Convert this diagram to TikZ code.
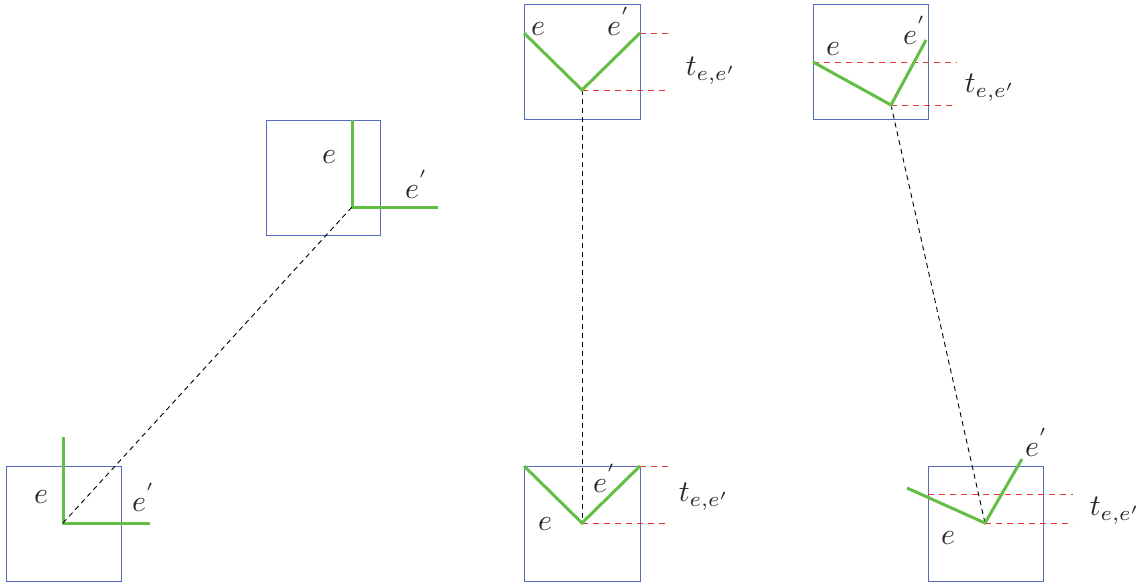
\documentclass[tikz,border=0pt]{standalone}
\definecolor{boxblue}{RGB}{88,108,190}
\definecolor{edgegreen}{RGB}{100,190,70}
\definecolor{guidered}{RGB}{230,50,50}
\definecolor{labelgray}{RGB}{40,40,40}
\tikzset{
  cellbox/.style={draw=boxblue, line width=1pt},
  edgeline/.style={draw=edgegreen, line width=3pt},
  guide/.style={draw=guidered, line width=0.9pt, dash pattern=on 6pt off 5pt},
  link/.style={draw=black, line width=0.9pt, dash pattern=on 5pt off 4pt},
  lbl/.style={inner sep=0pt, scale=3, transform shape, text=labelgray}
}
\begin{document}
\begin{tikzpicture}[x=1pt,y=-1pt]
\useasboundingbox (0,0) rectangle (1139,586);
% ---------- panel 1 ----------
\draw[cellbox] (6,466) rectangle (121,581);
\draw[cellbox] (266,120) rectangle (380,235);
\coordinate (a1) at (63,437);
\coordinate (v1) at (63,523);
\coordinate (b1) at (150,523);
\coordinate (a2) at (352,120);
\coordinate (v2) at (352,207);
\coordinate (b2) at (438,207);
\draw[edgeline] (a1) -- (v1) -- (b1);
\draw[edgeline] (a2) -- (v2) -- (b2);
\draw[link] (v1) -- (v2);
\node[lbl] (e1) at (41,497) {$e$};
\node[lbl] (f1) at (144,497) {$e^{'}$};
\node[lbl] (e2) at (329,157) {$e$};
\node[lbl] (f2) at (417,184) {$e^{'}$};
% ---------- panel 2 ----------
\draw[cellbox] (524,5) rectangle (640,119);
\draw[cellbox] (524,466) rectangle (640,581);
\coordinate (a3) at (524,33);
\coordinate (v3) at (582,90);
\coordinate (b3) at (640,33);
\coordinate (r3a) at (670,33);
\coordinate (r3b) at (670,90);
\coordinate (a4) at (524,466);
\coordinate (v4) at (582,523);
\coordinate (b4) at (640,466);
\coordinate (r4a) at (670,466);
\coordinate (r4b) at (670,523);
\draw[guide] (b3) -- (r3a);
\draw[guide] (v3) -- (r3b);
\draw[guide] (b4) -- (r4a);
\draw[guide] (v4) -- (r4b);
\draw[link] (v3) -- (v4);
\draw[edgeline] (a3) -- (v3) -- (b3);
\draw[edgeline] (a4) -- (v4) -- (b4);
\node[lbl] (e3) at (538,29) {$e$};
\node[lbl] (f3) at (619,21) {$e^{'}$};
\node[lbl] (t3) at (711,71) {$t_{e,e'}$};
\node[lbl] (e4) at (545,524) {$e$};
\node[lbl] (f4) at (605,478) {$e^{'}$};
\node[lbl] (t4) at (704,497) {$t_{e,e'}$};
% ---------- panel 3 ----------
\draw[cellbox] (813,5) rectangle (928,119);
\draw[cellbox] (928,466) rectangle (1043,581);
\coordinate (a5) at (813,62);
\coordinate (v5) at (891,105);
\coordinate (b5) at (926,40);
\coordinate (r5a) at (957,62);
\coordinate (r5b) at (957,105);
\coordinate (a6) at (907,488);
\coordinate (v6) at (985,523);
\coordinate (b6) at (1022,459);
\coordinate (l6) at (928,494);
\coordinate (r6a) at (1073,494);
\coordinate (r6b) at (1073,523);
\draw[guide] (a5) -- (r5a);
\draw[guide] (v5) -- (r5b);
\draw[guide] (l6) -- (r6a);
\draw[guide] (v6) -- (r6b);
\draw[link] (v5) -- (v6);
\draw[edgeline] (a5) -- (v5) -- (b5);
\draw[edgeline] (a6) -- (v6) -- (b6);
\node[lbl] (e5) at (833,49) {$e$};
\node[lbl] (f5) at (915,30) {$e^{'}$};
\node[lbl] (t5) at (990,88) {$t_{e,e'}$};
\node[lbl] (e6) at (948,538) {$e$};
\node[lbl] (f6) at (1037,442) {$e^{'}$};
\node[lbl] (t6) at (1115,511) {$t_{e,e'}$};
\end{tikzpicture}
\end{document}
